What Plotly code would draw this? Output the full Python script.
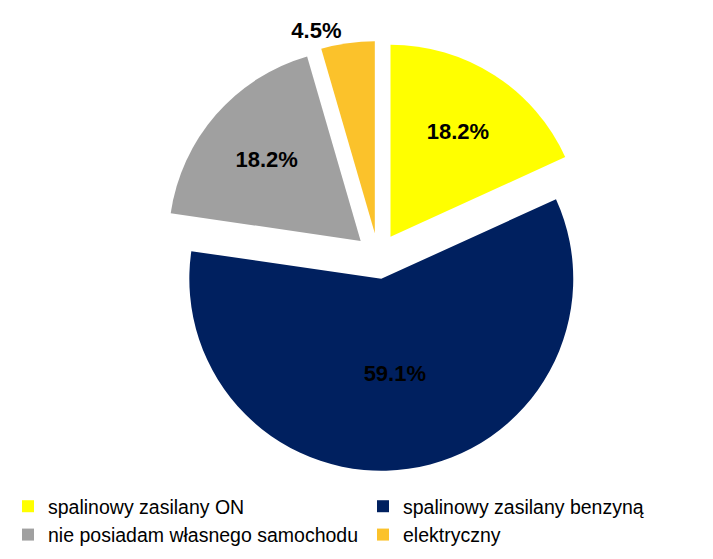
import plotly.graph_objects as go

labels = ["spalinowy zasilany ON", "spalinowy zasilany benzyną",
          "nie posiadam własnego samochodu", "elektryczny"]
values = [18.2, 59.1, 18.2, 4.5]
colors = ["#FFFF00", "#00205F", "#A0A0A0", "#FBC22B"]
text_positions = ["inside", "inside", "inside", "outside"]
pulls = [0.12, 0.12, 0.12, 0.12]

FONT = "Liberation Sans, Arial, sans-serif"

fig = go.Figure(go.Pie(
    labels=labels,
    values=values,
    sort=False,
    direction="clockwise",
    rotation=0,
    pull=pulls,
    marker=dict(colors=colors, line=dict(width=0)),
    texttemplate="%{value:.1f}%",
    textposition=text_positions,
    insidetextorientation="horizontal",
    textfont=dict(family=FONT, size=22, color="black", weight="bold"),
    outsidetextfont=dict(family=FONT, size=22, color="black", weight="bold"),
    domain=dict(x=[0.049, 0.989], y=[0.1825, 1]),
    hoverinfo="label+percent",
))

fig.update_layout(
    width=713, height=559,
    margin=dict(l=0, r=0, t=33, b=0, autoexpand=False),
    paper_bgcolor="white",
    plot_bgcolor="white",
    showlegend=True,
    legend=dict(
        orientation="h",
        x=0.0, xanchor="left",
        y=0.152, yanchor="top",
        entrywidth=310, entrywidthmode="pixels",
        font=dict(family=FONT, size=19.5, color="black"),
        itemwidth=30,
        traceorder="normal",
    ),
)

fig.write_html("out.html")
